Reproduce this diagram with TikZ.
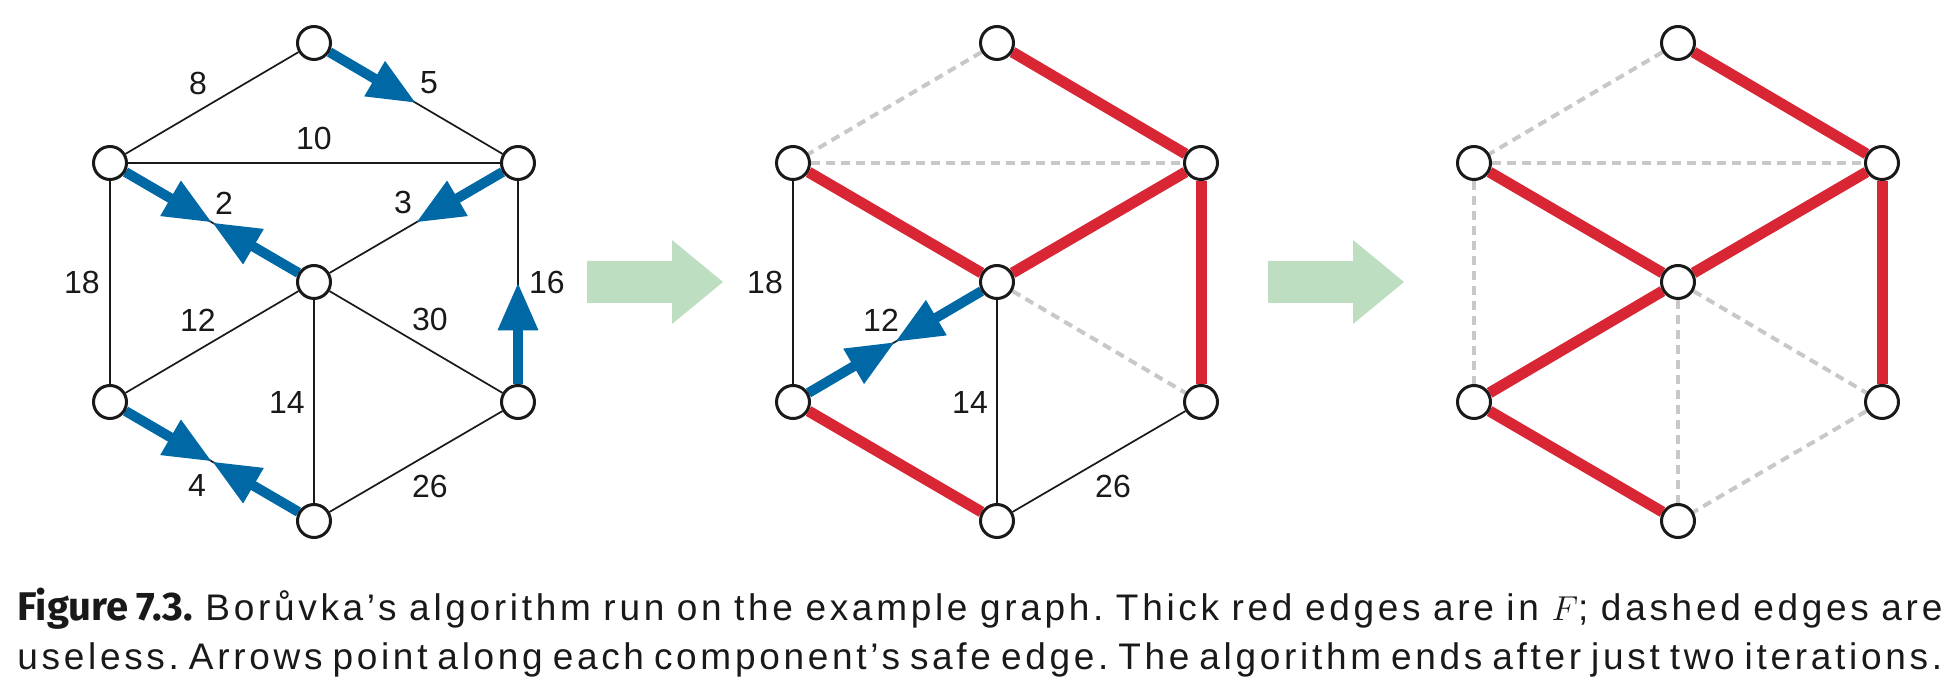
\documentclass[tikz,border=0pt]{standalone}
\usepackage{fontspec}
\setmainfont{Liberation Sans}
\newfontfamily\figfont{Fira Sans}
\newfontfamily\capfont{Liberation Sans}[LetterSpace=10]
\usetikzlibrary{arrows.meta,calc,backgrounds}

\definecolor{ink}{RGB}{25,25,25}
\definecolor{safeblue}{RGB}{0,105,165}
\definecolor{forestred}{RGB}{216,38,52}
\definecolor{stagegreen}{RGB}{190,222,194}
\definecolor{uselessgray}{RGB}{200,200,200}

\begin{document}
\begin{tikzpicture}[
    x=0.5pt,
    y=-0.5pt,
    every node/.style={font=\fontsize{16}{19}\selectfont, text=ink},
    vertex/.style={circle, draw=ink, fill=white, line width=1.5pt, minimum size=16.5pt, inner sep=0pt},
    edge/.style={draw=ink, line width=0.85pt},
    forest/.style={draw=forestred, line width=5.5pt},
    useless/.style={draw=uselessgray, line width=2pt, dash pattern=on 4.5pt off 3pt},
    safe/.style={draw=safeblue, line width=5pt, -{Triangle[length=24pt, width=19pt]}},
    stage/.style={fill=stagegreen},
    weight/.style={inner sep=0pt},
    caption/.style={text width=962.5pt, align=justify, inner sep=0pt, font=\capfont\fontsize{18.5}{24.5}\selectfont}
  ]
    \useasboundingbox (0,0) rectangle (1956,694);

    % vertices of the three stages
    \foreach \g/\x in {A/314, B/997, C/1678} {
      \node[vertex] (\g1) at (\x,43) {};
      \node[vertex] (\g2) at (\x-204,163) {};
      \node[vertex] (\g3) at (\x+204,163) {};
      \node[vertex] (\g4) at (\x,282) {};
      \node[vertex] (\g5) at (\x-204,402) {};
      \node[vertex] (\g6) at (\x+204,402) {};
      \node[vertex] (\g7) at (\x,521) {};
    }

    \begin{scope}[on background layer]
      % first stage: whole graph, safe edges as arrows
      \foreach \u/\v in {1/2,1/3,2/3,2/4,3/4,2/5,3/6,4/5,4/6,4/7,5/7,6/7}
        \draw[edge] (A\u) -- (A\v);
      \coordinate (A13) at ($(A1)!0.5!(A3)$);
      \coordinate (A24) at ($(A2)!0.5!(A4)$);
      \coordinate (A34) at ($(A3)!0.5!(A4)$);
      \coordinate (A36) at ($(A3)!0.5!(A6)$);
      \coordinate (A57) at ($(A5)!0.5!(A7)$);
      \draw[safe] (A1) -- (A13);
      \draw[safe] (A2) -- (A24);
      \draw[safe] (A4) -- (A24);
      \draw[safe] (A3) -- (A34);
      \draw[safe] (A6) -- (A36);
      \draw[safe] (A5) -- (A57);
      \draw[safe] (A7) -- (A57);

      % second stage
      \foreach \u/\v in {1/2,2/3,4/6}
        \draw[useless] (B\u) -- (B\v);
      \foreach \u/\v in {2/5,4/5,4/7,6/7}
        \draw[edge] (B\u) -- (B\v);
      \foreach \u/\v in {1/3,2/4,3/4,3/6,5/7}
        \draw[forest] (B\u) -- (B\v);
      \coordinate (B45) at ($(B4)!0.5!(B5)$);
      \draw[safe] (B4) -- (B45);
      \draw[safe] (B5) -- (B45);

      % third stage
      \foreach \u/\v in {1/2,2/3,2/5,4/6,4/7,6/7}
        \draw[useless] (C\u) -- (C\v);
      \foreach \u/\v in {1/3,2/4,3/4,3/6,4/5,5/7}
        \draw[forest] (C\u) -- (C\v);
    \end{scope}

    % edge weights
    \foreach \w/\dx/\y in {8/-116/83, 5/115/83, 10/0/138, 2/-90/203, 3/89/202, 18/-232/282,
                           16/233/282, 12/-116/320, 30/116/319, 14/-27/402, 4/-117/485, 26/116/486}
      \node[weight] (Aw\w) at (314+\dx,\y) {\w};
    \foreach \w/\dx/\y in {18/-232/282, 12/-116/320, 14/-27/402, 26/116/486}
      \node[weight] (Bw\w) at (997+\dx,\y) {\w};

    % arrows between stages
    \foreach \x in {587,1268}
      \fill[stage] (\x,261) -- (\x+85,261) -- (\x+85,240) -- (\x+136,282)
        -- (\x+85,324) -- (\x+85,303) -- (\x,303) -- cycle;

    \node[caption, anchor=base west] (cap) at (17,621) {\frenchspacing\parfillskip=0pt
      {\figfont\bfseries\fontsize{20}{24.5}\selectfont Figure 7.3.} Borůvka’s algorithm run on the example graph.
      Thick red edges are in $F$; dashed edges are\linebreak useless. Arrows point along each
      component’s safe edge. The algorithm ends after just two iterations.\par};
  \end{tikzpicture}
\end{document}
